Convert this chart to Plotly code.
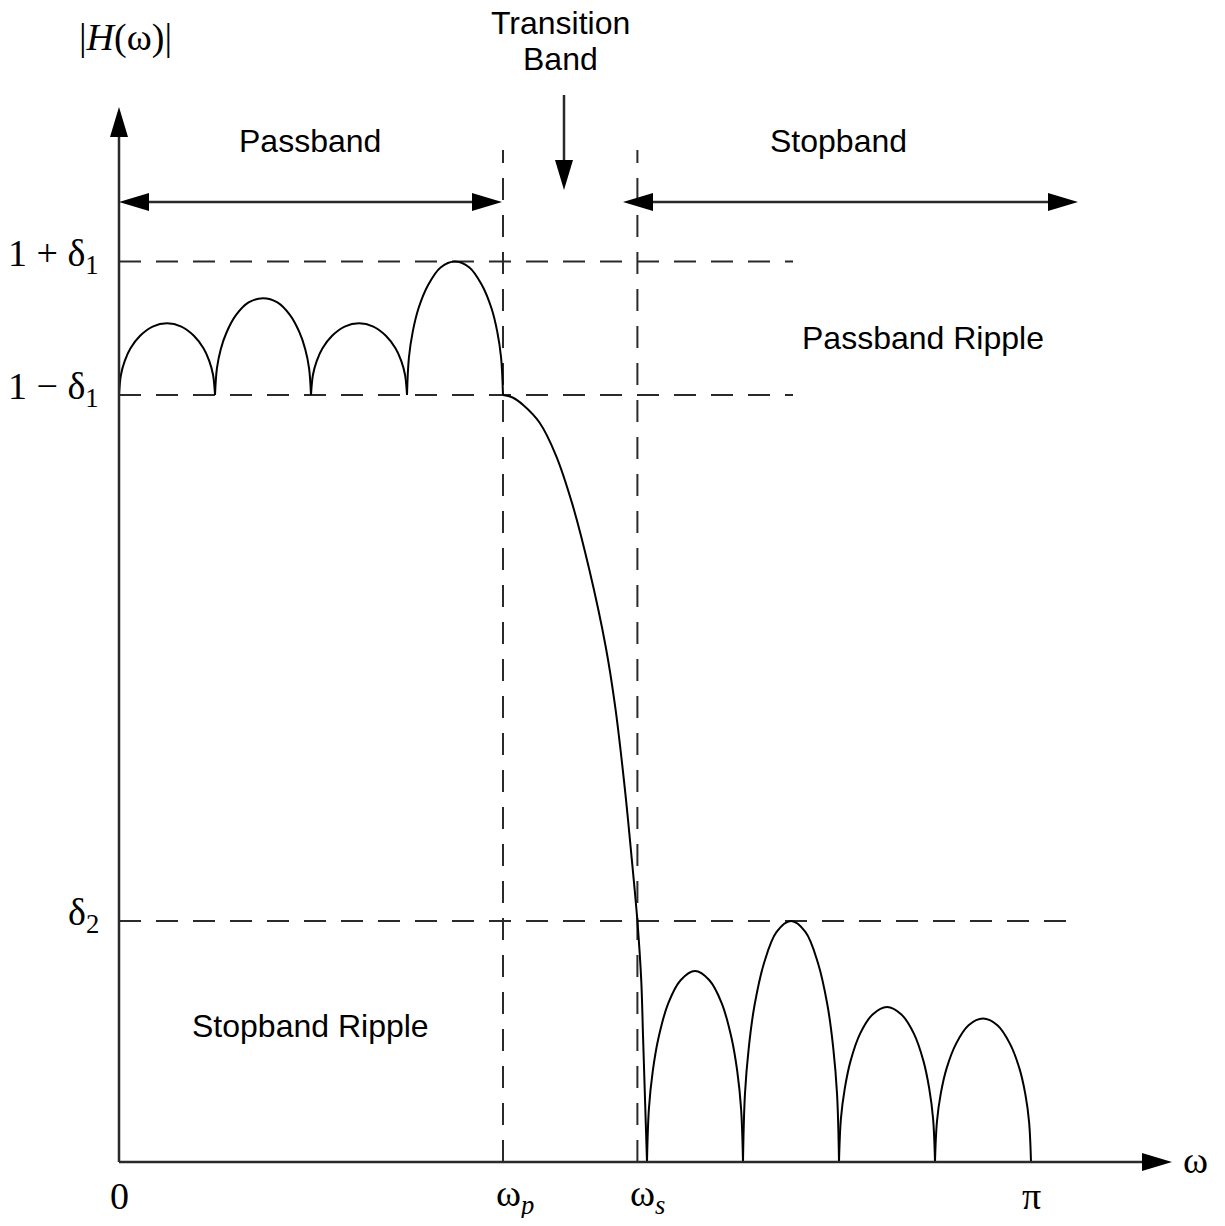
import plotly.graph_objects as go

# ---------------- data (schematic units: one passband lobe = 1 frequency unit) ----------------
ONE_PLUS_D1 = 1.08
ONE_MINUS_D1 = 0.92
DELTA2 = 0.289
W_P = 4.0
W_S = 5.4
W_PI = 9.5

pass_lobe_x = [
    [0.00, 0.02, 0.06, 0.12, 0.22, 0.35, 0.50, 0.65, 0.78, 0.88, 0.94, 0.98, 1.00],
    [1.00, 1.02, 1.06, 1.12, 1.22, 1.35, 1.50, 1.65, 1.78, 1.88, 1.94, 1.98, 2.00],
    [2.00, 2.02, 2.06, 2.12, 2.22, 2.35, 2.50, 2.65, 2.78, 2.88, 2.94, 2.98, 3.00],
    [3.00, 3.02, 3.06, 3.12, 3.22, 3.35, 3.50, 3.65, 3.78, 3.88, 3.94, 3.98, 4.00],
]
pass_lobe_y = [
    [0.920, 0.944, 0.961, 0.976, 0.991, 1.002, 1.006, 1.002, 0.991, 0.976, 0.961, 0.944, 0.920],
    [0.920, 0.952, 0.975, 0.995, 1.016, 1.031, 1.036, 1.031, 1.016, 0.995, 0.975, 0.952, 0.920],
    [0.920, 0.944, 0.961, 0.976, 0.991, 1.002, 1.006, 1.002, 0.991, 0.976, 0.961, 0.944, 0.920],
    [0.920, 0.965, 0.996, 1.024, 1.052, 1.073, 1.080, 1.073, 1.052, 1.024, 0.996, 0.965, 0.920],
]
trans_x = [4.00, 4.10, 4.21, 4.38, 4.55, 4.72, 4.90, 5.07, 5.17, 5.27, 5.34, 5.40, 5.44, 5.46, 5.50]
trans_y = [0.920, 0.917, 0.908, 0.887, 0.848, 0.790, 0.710, 0.618, 0.545, 0.447, 0.365, 0.289, 0.218, 0.146, 0.0]

stop_lobe_x = [
    [5.50, 5.52, 5.56, 5.62, 5.72, 5.85, 6.00, 6.15, 6.28, 6.38, 6.44, 6.48, 6.50],
    [6.50, 6.52, 6.56, 6.62, 6.72, 6.85, 7.00, 7.15, 7.28, 7.38, 7.44, 7.48, 7.50],
    [7.50, 7.52, 7.56, 7.62, 7.72, 7.85, 8.00, 8.15, 8.28, 8.38, 8.44, 8.48, 8.50],
    [8.50, 8.52, 8.56, 8.62, 8.72, 8.85, 9.00, 9.15, 9.28, 9.38, 9.44, 9.48, 9.50],
]
stop_lobe_y = [
    [0.0, 0.064, 0.109, 0.149, 0.190, 0.218, 0.229, 0.218, 0.190, 0.149, 0.109, 0.064, 0.0],
    [0.0, 0.081, 0.137, 0.188, 0.239, 0.276, 0.289, 0.276, 0.239, 0.188, 0.137, 0.081, 0.0],
    [0.0, 0.052, 0.088, 0.121, 0.154, 0.177, 0.186, 0.177, 0.154, 0.121, 0.088, 0.052, 0.0],
    [0.0, 0.048, 0.082, 0.112, 0.142, 0.164, 0.172, 0.164, 0.142, 0.112, 0.082, 0.048, 0.0],
]

y_tick_vals = [ONE_PLUS_D1, ONE_MINUS_D1, DELTA2]
y_tick_text = ["1 + δ<sub>1</sub>", "1 − δ<sub>1</sub>", "δ<sub>2</sub>"]
x_tick_vals = [0.0, W_P, W_S, W_PI]
x_tick_text = ["0", "ω<sub><i>p</i></sub>", "ω<sub><i>s</i></sub>", "π"]

# ---------------- layout geometry ----------------
PAGE_W, PAGE_H = 1225, 1226
BODY = 8                                   # default body margin of the html page
W, H = PAGE_W - 2 * BODY, PAGE_H - 2 * BODY
OX_PAGE, OY_PAGE = 119, 1162               # page pixel position of the origin
OX, OY = OX_PAGE - BODY, OY_PAGE - BODY    # figure pixel position of the origin
X_PX, Y_PX = 96.0, 833.7                   # pixels per data unit
x_range = [-OX / X_PX, (W - OX) / X_PX]
y_range = [-(H - OY) / Y_PX, OY / Y_PX]


def dx(px):
    return px / X_PX


def dy(px):
    return px / Y_PX


def ypx(py):  # page pixel row -> data y
    return (OY_PAGE - py) / Y_PX


def xpx(px):  # page pixel column -> data x
    return (px - OX_PAGE) / X_PX


AXIS_COL = "#2a2a2a"
SERIF = "Liberation Serif, Times New Roman, serif"
SANS = "Liberation Sans, Arial, Helvetica, sans-serif"
SERIF_SIZE = 38
SANS_SIZE = 32

fig = go.Figure()

curve_line = dict(color="black", width=2, shape="spline", smoothing=1.0)
for xs, ys in zip(pass_lobe_x, pass_lobe_y):
    fig.add_trace(go.Scatter(x=xs, y=ys, mode="lines", line=curve_line, hoverinfo="skip", showlegend=False))
fig.add_trace(go.Scatter(x=trans_x, y=trans_y, mode="lines", line=curve_line, hoverinfo="skip", showlegend=False))
for xs, ys in zip(stop_lobe_x, stop_lobe_y):
    fig.add_trace(go.Scatter(x=xs, y=ys, mode="lines", line=curve_line, hoverinfo="skip", showlegend=False))

shapes = []
DASH = "22px,15px"
guide_end = [xpx(793), xpx(793), xpx(1080)]
for yv, xe in zip(y_tick_vals, guide_end):
    shapes.append(dict(type="line", xref="x", yref="y", x0=0, x1=xe, y0=yv, y1=yv,
                       line=dict(color=AXIS_COL, width=2, dash=DASH), layer="below"))
for xv in [W_P, W_S]:
    shapes.append(dict(type="line", xref="x", yref="y", x0=xv, x1=xv, y0=0, y1=ypx(150),
                       line=dict(color=AXIS_COL, width=2, dash=DASH), layer="below"))

HEAD_L, HEAD_W = 30, 9


def arrow(x0, y0, x1, y1, both=False):
    out = []
    px_dx = (x1 - x0) * X_PX
    px_dy = (y1 - y0) * Y_PX
    n = (px_dx ** 2 + px_dy ** 2) ** 0.5
    ux, uy = px_dx / n, px_dy / n
    back = 18
    sx0 = x0 + (dx(ux * back) if both else 0)
    sy0 = y0 + (dy(uy * back) if both else 0)
    out.append(dict(type="line", xref="x", yref="y", x0=sx0, y0=sy0,
                    x1=x1 - dx(ux * back), y1=y1 - dy(uy * back),
                    line=dict(color=AXIS_COL, width=2.5)))
    tips = [(x1, y1, ux, uy)]
    if both:
        tips.append((x0, y0, -ux, -uy))
    for tx, ty, vx, vy in tips:
        bx, by = tx - dx(vx * HEAD_L), ty - dy(vy * HEAD_L)
        px_, py_ = -vy, vx
        p1 = (bx + dx(px_ * HEAD_W), by + dy(py_ * HEAD_W))
        p2 = (bx - dx(px_ * HEAD_W), by - dy(py_ * HEAD_W))
        path = f"M{tx},{ty} L{p1[0]},{p1[1]} L{p2[0]},{p2[1]} Z"
        out.append(dict(type="path", xref="x", yref="y", path=path,
                        fillcolor="black", line=dict(width=0)))
    return out


shapes += arrow(0, 0, 0, ypx(107))
shapes += arrow(0, 0, xpx(1172), 0)
band_y = ypx(202)
shapes += arrow(0, band_y, xpx(502), band_y, both=True)
shapes += arrow(xpx(623), band_y, xpx(1078), band_y, both=True)
shapes += arrow(xpx(564), ypx(95), xpx(564), ypx(190))

annotations = []


def label(text, px, py, size, font, xanchor="center", yanchor="middle"):
    annotations.append(dict(text=text, x=(px - BODY) / W, y=1 - (py - BODY) / H,
                            xref="paper", yref="paper", borderpad=0,
                            showarrow=False, xanchor=xanchor, yanchor=yanchor,
                            font=dict(family=font, size=size, color="black")))


label("|<i>H</i>(ω)|", 125, 37, SERIF_SIZE, SERIF)
label("Passband", 310, 141, SANS_SIZE, SANS)
label("Transition", 560, 23, SANS_SIZE, SANS)
label("Band", 560, 59, SANS_SIZE, SANS)
label("Stopband", 838, 141, SANS_SIZE, SANS)
label("Passband Ripple", 923, 338, SANS_SIZE, SANS)
label("Stopband Ripple", 310, 1026, SANS_SIZE, SANS)
label("ω", 1195, 1160, SERIF_SIZE, SERIF)

for yv, txt in zip(y_tick_vals, y_tick_text):
    annotations.append(dict(text=txt, x=(100 - BODY) / W, y=yv, xref="paper", yref="y", showarrow=False,
                            xanchor="right", yanchor="middle", yshift=6, borderpad=0,
                            font=dict(family=SERIF, size=SERIF_SIZE, color="black")))
x_shift = [0, 12, 10, 0]
for xv, txt, sh in zip(x_tick_vals, x_tick_text, x_shift):
    annotations.append(dict(text=txt, x=xv, y=ypx(1196), xref="x", yref="y", showarrow=False,
                            xanchor="center", yanchor="middle", xshift=sh, borderpad=0,
                            font=dict(family=SERIF, size=SERIF_SIZE, color="black")))

fig.update_layout(
    width=W, height=H, autosize=False,
    margin=dict(l=0, r=0, t=0, b=0, pad=0),
    paper_bgcolor="white", plot_bgcolor="white",
    xaxis=dict(range=x_range, visible=False, fixedrange=True),
    yaxis=dict(range=y_range, visible=False, fixedrange=True),
    shapes=shapes, annotations=annotations, showlegend=False,
)

fig.write_html("out.html")
